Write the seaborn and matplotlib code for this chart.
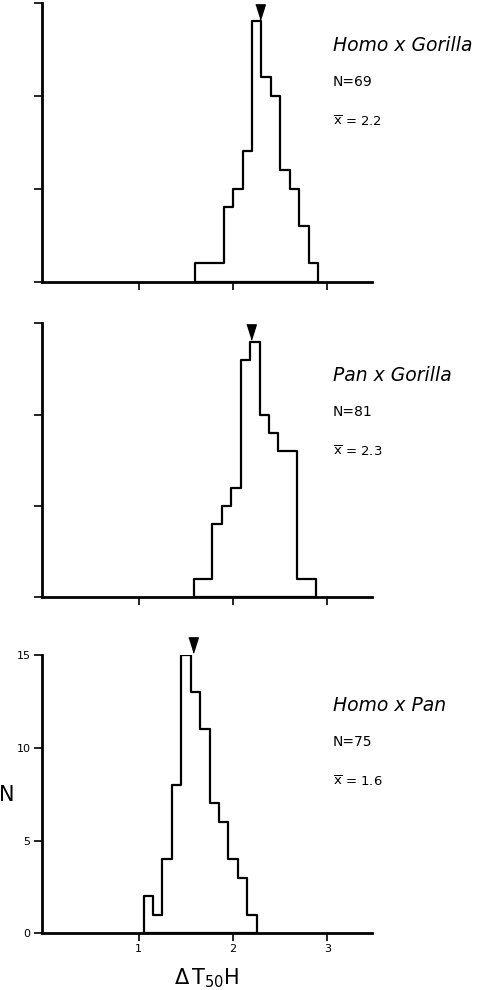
import numpy as np
import pandas as pd
import matplotlib
matplotlib.use("Agg")
import matplotlib.pyplot as plt
import seaborn as sns

# bin counts (bin width 0.1)
bin_width = 0.1
hg_start = 1.6
hg_counts = [1, 1, 1, 4, 5, 7, 14, 11, 10, 6, 5, 3, 1]
pg_start = 1.58
pg_counts = [1, 1, 4, 5, 6, 13, 14, 10, 9, 8, 8, 1, 1]
hp_start = 1.05
hp_counts = [2, 1, 4, 8, 15, 13, 11, 7, 6, 4, 3, 1]

pair_names = ["Homo x Gorilla", "Pan x Gorilla", "Homo x Pan"]
n_values = [69, 81, 75]
mean_values = ["2.2", "2.3", "1.6"]
arrow_x = [2.285, 2.19, 1.57]
x_ticks = [1, 2, 3]
y_ticks = [0, 5, 10, 15]


def make_frame(start, counts):
    edges = start + bin_width * np.arange(len(counts) + 1)
    centers = edges[:-1] + bin_width / 2
    return pd.DataFrame({"dT50H": centers, "n": counts}), [float(e) for e in edges]


def main() -> None:
    sns.set_style("white")
    plt.rcParams["font.family"] = ["DejaVu Sans"]
    plt.rcParams["mathtext.fontset"] = "dejavusans"
    plt.rcParams["text.color"] = "black"
    plt.rcParams["axes.labelcolor"] = "black"

    fig = plt.figure(figsize=(4.8, 9.9), dpi=100)
    # [left, bottom, width, height] in figure fractions
    boxes = [
        [0.0869, 0.7155, 0.6875, 0.2818],
        [0.0869, 0.3967, 0.6875, 0.2768],
        [0.0869, 0.0573, 0.6875, 0.2811],
    ]
    panels = [(hg_start, hg_counts), (pg_start, pg_counts), (hp_start, hp_counts)]
    text_top = [0.954, 0.621, 0.287]
    arrow = [(-1, 1.6), (1, 1.6), (0, -1.6)]

    for i, (start, counts) in enumerate(panels):
        ax = fig.add_axes(boxes[i])
        df, edges = make_frame(start, counts)
        sns.histplot(data=df, x="dT50H", weights="n", bins=edges, element="step",
                     fill=True, facecolor="white", edgecolor="black",
                     linewidth=1.6, alpha=1, ax=ax)
        ax.plot([arrow_x[i]], [max(counts) + 0.52], marker=arrow, color="black",
                markersize=11, linestyle="none", clip_on=False, zorder=5)

        ax.set_xlim(-0.03, 3.47)
        ax.set_ylim(0, 15)
        ax.set_xticks(x_ticks)
        ax.set_yticks(y_ticks)
        for side in ["top", "right"]:
            ax.spines[side].set_visible(False)
        for side in ["left", "bottom"]:
            ax.spines[side].set_linewidth(2)
            ax.spines[side].set_color("black")
        ax.tick_params(direction="out", length=6, width=1.2, colors="black",
                       labelsize=8, pad=2, left=True, bottom=True)

        if i < 2:
            ax.set_xticklabels([])
            ax.set_yticklabels([])
            ax.set_xlabel("")
            ax.set_ylabel("")
        else:
            ax.set_xlabel(r"$\Delta\,\mathrm{T}_{50}\mathrm{H}$", fontsize=15, labelpad=9)
            ax.set_ylabel("N", fontsize=15, rotation=0, va="center", ha="center")
            ax.yaxis.set_label_coords(-0.105, 0.497)

        fig.text(0.694, text_top[i], pair_names[i], fontsize=13.5, style="italic",
                 ha="left", va="center")
        fig.text(0.694, text_top[i] - 0.037, f"N={n_values[i]}", fontsize=10,
                 ha="left", va="center")
        fig.text(0.694, text_top[i] - 0.077, r"$\overline{\mathrm{x}}$" + f" = {mean_values[i]}",
                 fontsize=9.5, ha="left", va="center")

    fig.savefig("out.png", dpi=100)


if __name__ == "__main__":
    main()
